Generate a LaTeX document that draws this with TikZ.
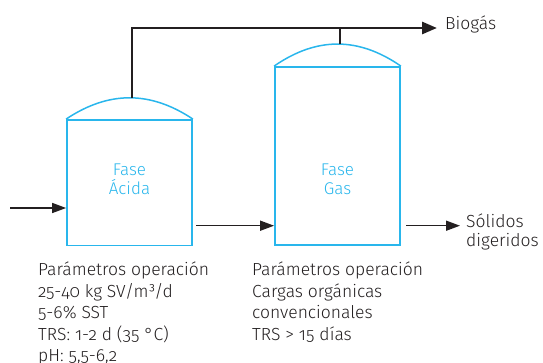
\documentclass[tikz,border=0pt]{standalone}
\usepackage{fontspec}
\setmainfont{Fira Sans Light}[Numbers=OldStyle]
\usetikzlibrary{arrows.meta}
\definecolor{tankblue}{RGB}{41,182,236}
\definecolor{ink}{RGB}{35,31,32}
\tikzset{
  tank/.style={draw=tankblue, line width=1.8pt, rectangle, inner sep=0pt},
  dome/.style={draw=tankblue, line width=1.5pt},
  flow/.style={draw=ink, line width=1.5pt, -{Triangle[length=14pt,width=10pt]}},
  pipe/.style={draw=ink, line width=2.8pt},
  label/.style={text=ink, font=\fontsize{17.5pt}{21.5pt}\selectfont, inner sep=0pt, align=left},
  tanklabel/.style={text=tankblue, font=\fontsize{17pt}{19pt}\selectfont, align=center, inner sep=0pt}
}
\begin{document}
\begin{tikzpicture}[x=1pt,y=-1pt]
\useasboundingbox (0,0) rectangle (543,363);
% tanks
\node[tank, minimum width=125pt, minimum height=125.5pt] (acid) at (129.5,182.75) {};
\node[tank, minimum width=125pt, minimum height=178pt] (gas) at (337.5,156) {};
\draw[dome] (acid.north west) .. controls (108.7,90.7) and (150.3,90.7) .. (acid.north east);
\draw[dome] (gas.north west) .. controls (316.7,36.7) and (358.3,36.7) .. (gas.north east);
\node[tanklabel] (acidtxt) at (129.5,179) {Fase\\Ácida};
\node[tanklabel] (gastxt) at (337.5,179) {Fase\\Gas};
% coordinates
\coordinate (acidtop) at (132,98);
\coordinate (gastop) at (340,44.3);
\coordinate (pipecorner) at (132,28);
\coordinate (pipejoin) at (340,28);
\coordinate (pipeend) at (437,28);
\coordinate (feed) at (10,208);
\coordinate (mid1) at (196,225.7);
\coordinate (out1) at (406,225.7);
\coordinate (out2) at (460,225.7);
% biogas
\draw[pipe, -{Triangle[length=15pt,width=12pt]}] (acidtop) -- (pipecorner) -- (pipeend);
\draw[draw=ink, line width=1.5pt] (gastop) -- (pipejoin);
\node[label, anchor=base west] (biogas) at (445,30) {Biogás};
% flows
\draw[flow] (feed) -- (feed -| acid.west);
\draw[flow] (mid1) -- (mid1 -| gas.west);
\draw[flow] (out1) -- (out2);
\node[label, anchor=base west, font=\fontsize{17.5pt}{19.5pt}\selectfont] (solidos) at (466,246.7) {Sólidos\\digeridos};
% parameters (base anchor = last line's baseline)
\node[label, anchor=base west] (parA) at (38,361.7) {Parámetros operación\\25-40 kg SV/m³/d\\5-6\% SST\\TRS: 1-2 d (35 °C)\\pH: 5,5-6,2};
\node[label, anchor=base west] (parB) at (252,340.2) {Parámetros operación\\Cargas orgánicas\\convencionales\\TRS > 15 días};
\end{tikzpicture}
\end{document}
